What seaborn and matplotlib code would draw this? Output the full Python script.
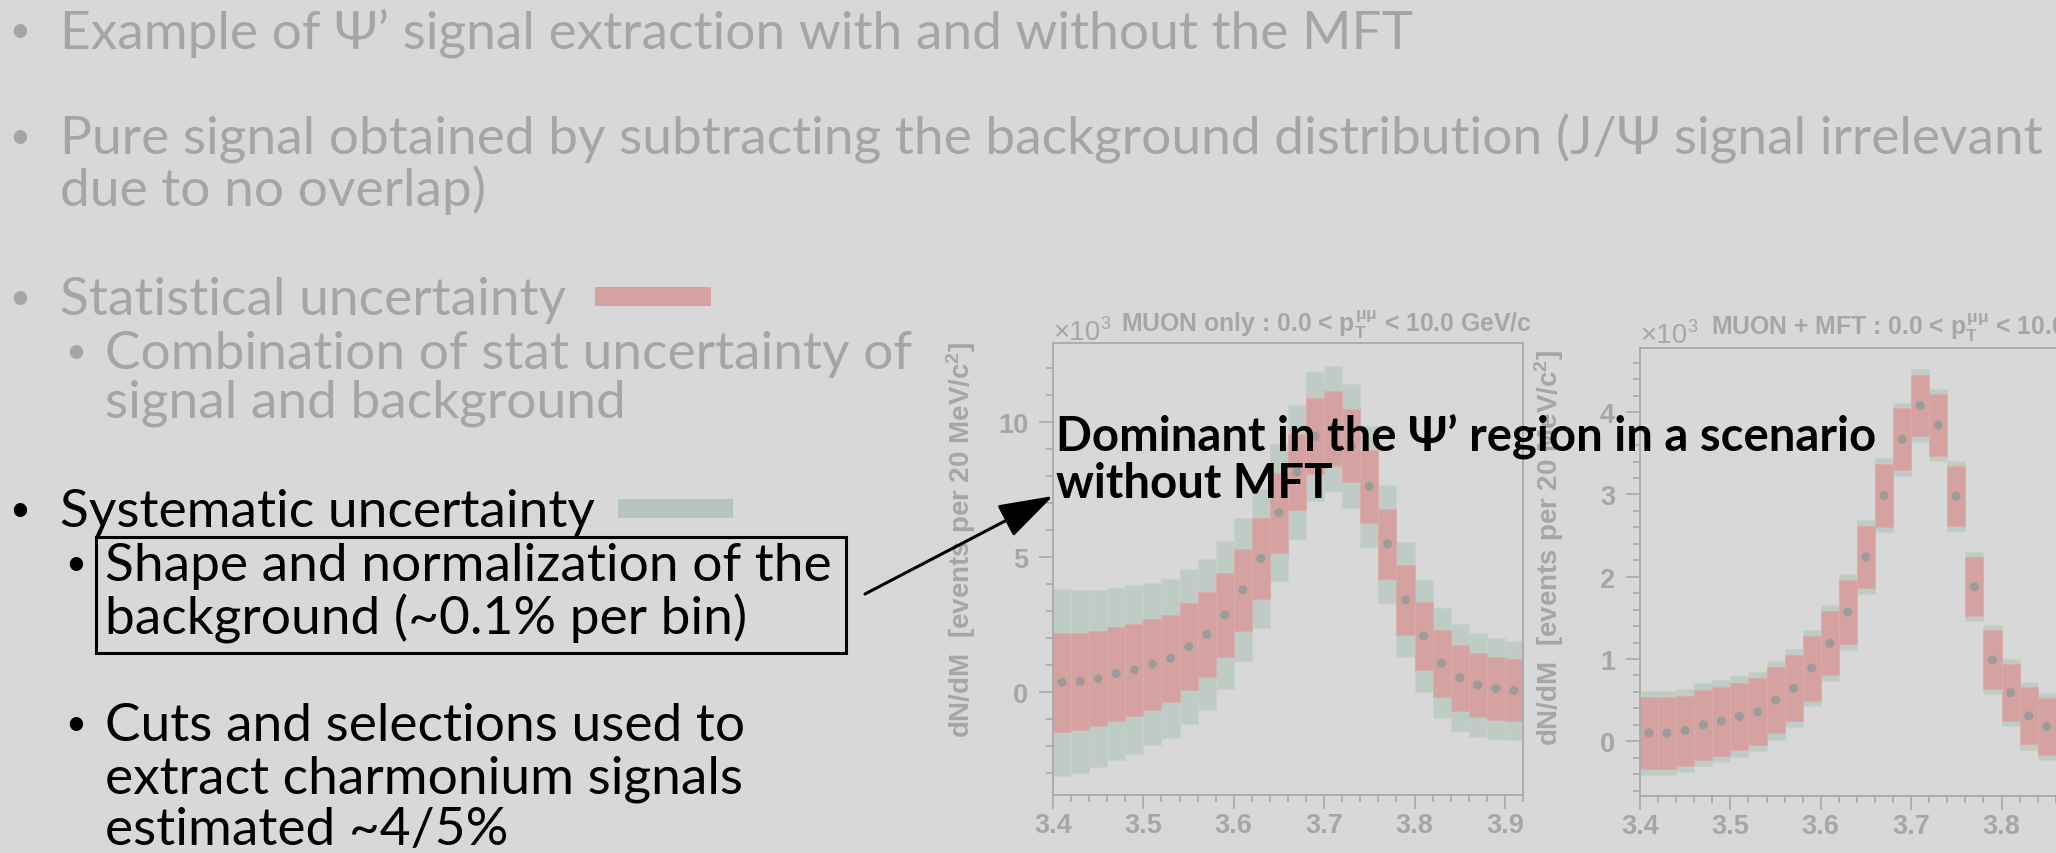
import matplotlib
matplotlib.use("Agg")
import matplotlib.pyplot as plt
from matplotlib.patches import Rectangle, FancyArrowPatch
from matplotlib.ticker import MultipleLocator, FormatStrFormatter
import pandas as pd
import seaborn as sns

# ---- dimuon invariant-mass bins (GeV/c^2), 20 MeV wide ----
mass = [3.41, 3.43, 3.45, 3.47, 3.49, 3.51, 3.53, 3.55, 3.57, 3.59,
        3.61, 3.63, 3.65, 3.67, 3.69, 3.71, 3.73, 3.75, 3.77, 3.79,
        3.81, 3.83, 3.85, 3.87, 3.89, 3.91]

# MUON only (x10^3 events per 20 MeV/c^2)
muon_yield = [0.36, 0.39, 0.50, 0.68, 0.82, 1.03, 1.25, 1.68, 2.13, 2.85,
              3.79, 4.95, 6.65, 8.15, 9.48, 9.78, 9.13, 7.62, 5.49, 3.42,
              2.08, 1.07, 0.53, 0.26, 0.13, 0.06]
muon_stat = [1.83, 1.81, 1.76, 1.74, 1.71, 1.68, 1.62, 1.61, 1.58, 1.55,
             1.52, 1.49, 1.48, 1.40, 1.41, 1.39, 1.36, 1.35, 1.30, 1.30,
             1.27, 1.24, 1.23, 1.20, 1.18, 1.15]
muon_syst = [3.46, 3.38, 3.29, 3.19, 3.13, 3.00, 2.94, 2.88, 2.79, 2.74,
             2.65, 2.59, 2.54, 2.48, 2.40, 2.32, 2.29, 2.26, 2.18, 2.14,
             2.09, 2.04, 1.98, 1.93, 1.88, 1.83]

# MUON + MFT (x10^3 events per 20 MeV/c^2)
mft_mass = mass[:24]
mft_yield = [0.10, 0.10, 0.13, 0.20, 0.245, 0.30, 0.36, 0.50, 0.645, 0.89,
             1.19, 1.57, 2.24, 2.99, 3.67, 4.08, 3.84, 2.98, 1.88, 0.99,
             0.59, 0.31, 0.18, 0.12]
mft_stat = [0.44, 0.44, 0.425, 0.425, 0.42, 0.41, 0.405, 0.40, 0.40, 0.395,
            0.39, 0.39, 0.38, 0.38, 0.375, 0.37, 0.375, 0.365, 0.36, 0.36,
            0.345, 0.345, 0.345, 0.34]
mft_syst = [0.51, 0.51, 0.505, 0.505, 0.495, 0.488, 0.484, 0.48, 0.473, 0.467,
            0.462, 0.462, 0.447, 0.447, 0.441, 0.441, 0.437, 0.428, 0.424, 0.42,
            0.41, 0.41, 0.41, 0.40]

# ---- colours ----
BG = "#d8d8d8"
GREY_TXT = "#a5a5a5"
AXIS = "#a9a9a9"
TICK_TXT = "#a6a6a6"
POINT = "#9b9b9b"
RED = "#d5a2a1"
RED_EDGE = "#d9adab"
GREEN = "#bfccc5"
GREEN_EDGE = "#c6d1cb"
RED_SWATCH = "#d5a1a1"
GREEN_SWATCH = "#b6c4bf"

sns.set_theme(style="white", rc={"figure.facecolor": BG, "axes.facecolor": BG})
plt.rcParams["font.family"] = ["Lato", "DejaVu Sans"]
plt.rcParams["mathtext.fontset"] = "custom"
plt.rcParams["mathtext.rm"] = "Liberation Sans:bold"
plt.rcParams["mathtext.it"] = "Liberation Sans:bold"
plt.rcParams["mathtext.bf"] = "Liberation Sans:bold"
plt.rcParams["mathtext.sf"] = "Liberation Sans:bold"

W, H = 2056, 854
fig = plt.figure(figsize=(W / 100, H / 100), dpi=100, facecolor=BG)


def fx(px):
    return px / W


def fy(py):
    return 1 - py / H


PLOT_FONT = ["Liberation Sans", "DejaVu Sans"]


def spectrum(left, top, bottom, x, y, stat, syst, ylim, major, minor, title, title_x, title_y):
    width_px = 470
    ax = fig.add_axes([fx(left), fy(bottom), width_px / W, (bottom - top) / H])
    ax.set_facecolor(BG)
    df = pd.DataFrame({"mass": x, "yield": y, "stat": stat, "syst": syst})
    ax.bar(df["mass"], 2 * df["syst"], bottom=df["yield"] - df["syst"], width=0.02,
           color=GREEN, edgecolor=GREEN_EDGE, linewidth=0.6, zorder=1)
    ax.bar(df["mass"], 2 * df["stat"], bottom=df["yield"] - df["stat"], width=0.02,
           color=RED, edgecolor=RED_EDGE, linewidth=0.6, zorder=2)
    sns.scatterplot(data=df, x="mass", y="yield", ax=ax, color=POINT, s=42,
                    edgecolor="none", zorder=3, legend=False)
    ax.set_xlim(3.4, 3.92)
    ax.set_ylim(*ylim)
    ax.set_xlabel("")
    ax.set_ylabel("")
    ax.xaxis.set_major_locator(MultipleLocator(0.1))
    ax.xaxis.set_minor_locator(MultipleLocator(0.02))
    ax.yaxis.set_major_locator(MultipleLocator(major))
    ax.yaxis.set_minor_locator(MultipleLocator(minor))
    ax.xaxis.set_major_formatter(FormatStrFormatter("%.1f"))
    ax.yaxis.set_major_formatter(FormatStrFormatter("%g"))
    ax.tick_params(which="both", direction="out", color=AXIS, width=1.2,
                   labelcolor=TICK_TXT, labelsize=19.5, top=False, right=False,
                   bottom=True, left=True)
    ax.tick_params(which="major", length=10)
    ax.tick_params(which="minor", length=5)
    ax.tick_params(axis="x", pad=2)
    ax.tick_params(axis="y", pad=8)
    for sp in ax.spines.values():
        sp.set_color(AXIS)
        sp.set_linewidth(1.3)
        sp.set_visible(True)
    for lbl in ax.get_xticklabels() + ax.get_yticklabels():
        lbl.set_fontfamily(PLOT_FONT)
        lbl.set_fontweight("bold")
    # exponent and title above the frame
    fig.text(fx(left), fy(title_y + 8), "×10", fontsize=20, color=TICK_TXT,
             family=PLOT_FONT, ha="left", va="baseline")
    fig.text(fx(left + 47), fy(title_y - 16), "3", fontsize=13, color=TICK_TXT,
             family=PLOT_FONT, ha="left", va="top")
    fig.text(fx(title_x), fy(title_y), title, fontsize=17.8, color=TICK_TXT,
             family=PLOT_FONT, fontweight="bold", ha="left", va="baseline")
    return ax


ax1 = spectrum(1053, 344, 796, mass, muon_yield, muon_stat, muon_syst,
               (-3.82, 12.94), 5, 1,
               r"MUON only : 0.0 < $p_{T}^{\mu\mu}$ < 10.0 GeV/c", 1121, 332)
ax2 = spectrum(1640, 349, 797, mft_mass, mft_yield, mft_stat, mft_syst,
               (-0.665, 4.78), 1, 0.2,
               r"MUON + MFT : 0.0 < $p_{T}^{\mu\mu}$ < 10.0 GeV/c", 1711, 335)

ylab = r"dN/dM  [events per 20 MeV/c$^{2}$]"
for xc, ytop in [(961, 342), (1549, 350)]:
    fig.text(fx(xc), fy(ytop), ylab, rotation=90, fontsize=20, color=TICK_TXT,
             family=PLOT_FONT, fontweight="bold", ha="center", va="top")

# ---- bullet text ----
TXT = 38.3
BUL = 26
lines = [
    (60, 48, "Example of Ψ’ signal extraction with and without the MFT", GREY_TXT, 20),
    (60, 154, "Pure signal obtained by subtracting the background distribution (J/Ψ signal irrelevant", GREY_TXT, 20),
    (60, 206, "due to no overlap)", GREY_TXT, None),
    (60, 315, "Statistical uncertainty", GREY_TXT, 20),
    (105, 369, "Combination of stat uncertainty of", GREY_TXT, 76),
    (105, 418, "signal and background", GREY_TXT, None),
    (60, 527, "Systematic uncertainty", "black", 20),
    (105, 581, "Shape and normalization of the", "black", 76),
    (105, 634, "background (~0.1% per bin)", "black", None),
    (105, 741, "Cuts and selections used to", "black", 76),
    (105, 794, "extract charmonium signals", "black", None),
    (105, 845, "estimated ~4/5%", "black", None),
]
for x, yb, s, c, bx in lines:
    fig.text(fx(x), fy(yb), s, fontsize=TXT, color=c, ha="left", va="baseline")
    if bx is not None:
        fig.text(fx(bx), fy(yb - 6), "•", fontsize=BUL, color=c, ha="center", va="baseline")

# legend swatches next to the uncertainty bullets
fig.add_artist(Rectangle((fx(595), fy(307)), 116 / W, 19 / H, transform=fig.transFigure,
                         facecolor=RED_SWATCH, edgecolor="none"))
fig.add_artist(Rectangle((fx(618), fy(519)), 115 / W, 19 / H, transform=fig.transFigure,
                         facecolor=GREEN_SWATCH, edgecolor="none"))

# framed systematic item
fig.add_artist(Rectangle((fx(96), fy(654)), 750 / W, 116 / H, transform=fig.transFigure,
                         facecolor="none", edgecolor="black", linewidth=2.2, zorder=5))

# arrow to the annotation
fig.add_artist(FancyArrowPatch((fx(865), fy(595)), (fx(1053), fy(497)),
                               transform=fig.transFigure,
                               arrowstyle="-|>,head_length=3.4,head_width=1.1",
                               mutation_scale=10, color="black", linewidth=2.2,
                               shrinkA=0, shrinkB=0, zorder=6))

fig.text(fx(1056), fy(451), "Dominant in the Ψ’ region in a scenario", fontsize=34,
         fontweight="bold", color="black", ha="left", va="baseline", zorder=7)
fig.text(fx(1056), fy(498), "without MFT", fontsize=34,
         fontweight="bold", color="black", ha="left", va="baseline", zorder=7)

fig.savefig("out.png", dpi=100, facecolor=BG)
